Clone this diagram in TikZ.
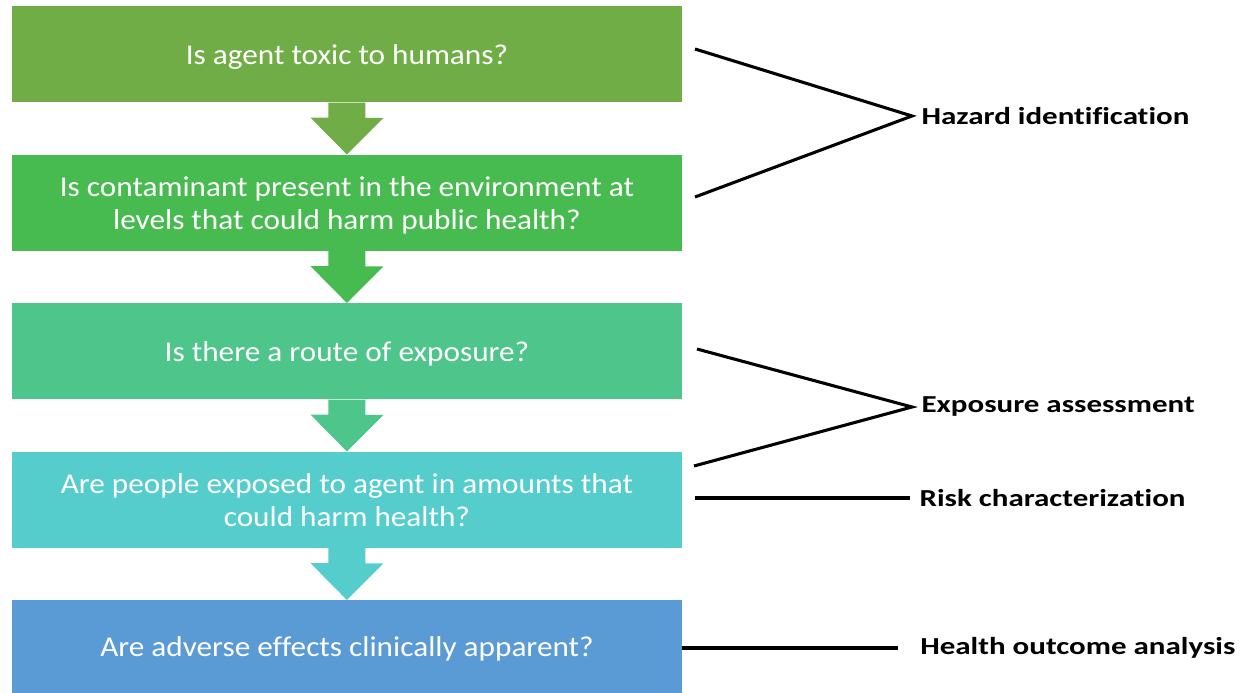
\documentclass[tikz,border=0pt]{standalone}
\usepackage{fontspec}
\setmainfont{Carlito}[Ligatures=CommonOff]
\newfontfamily\boxfont{Carlito}[FakeStretch=1.09,Ligatures=CommonOff]
\newfontfamily\labfont{Carlito}[FakeStretch=1.27,Ligatures=CommonOff,BoldFont={Carlito Bold}]
\definecolor{c1}{RGB}{112,173,71}
\definecolor{c2}{RGB}{71,187,80}
\definecolor{c3}{RGB}{78,197,139}
\definecolor{c4}{RGB}{86,205,205}
\definecolor{c5}{RGB}{91,155,213}
\begin{document}
\begin{tikzpicture}[x=0.75pt,y=-0.75pt,
  qbox/.style={fill=#1, draw=none, minimum width=502pt, minimum height=72pt, inner sep=0pt,
    text=white, align=center, font=\boxfont\fontsize{21.5}{24.5}\selectfont, anchor=north west,
    text depth=0pt},
  lab/.style={anchor=west, inner xsep=7pt, inner ysep=0pt, font=\labfont\fontsize{18.3}{22}\selectfont\bfseries},
  conn/.style={line width=2.3pt, black}
]
\useasboundingbox (0,0) rectangle (1247,693);
\node[qbox=c1] (b1) at (12,6) {Is agent toxic to humans?};
\node[qbox=c2] (b2) at (12,154.5) {Is contaminant present in the environment at\\levels that could harm public health?};
\node[qbox=c3] (b3) at (12,303) {Is there a route of exposure?};
\node[qbox=c4] (b4) at (12,451.5) {Are people exposed to agent in amounts that\\could harm health?};
\node[qbox=c5, minimum height=69.75pt] (b5) at (12,600) {Are adverse effects clinically apparent?};
% arrows
\foreach \a/\b/\c in {b1/b2/c1, b2/b3/c2, b3/b4/c3, b4/b5/c4}{
  \fill[\c] ([xshift=-13.9pt]\a.south) -- ++(0,-11.25pt) -- ++(-13.5pt,0) -- (\b.north) -- ++(27.4pt,27.4pt) -- ++(-13.5pt,0) -- ([xshift=13.9pt]\a.south) -- cycle;
}
% labels
\node[lab] (l1) at (912,116) {Hazard identification};
\node[lab] (l2) at (912,407) {Exposure assessment};
\node[lab] (l3) at (910,498) {Risk characterization};
\node[lab] (l4) at (898,648) {\hspace{9.5pt}Health outcome analysis};
\coordinate (h1) at (695,49);
\coordinate (h2) at (695,197);
\coordinate (e1) at (697,349);
\coordinate (e2) at (694,466);
\coordinate (r1) at (695,498);
\draw[conn] (h1) -- (l1.west) -- (h2);
\draw[conn] (e1) -- (l2.west) -- (e2);
\draw[conn] (r1) -- (l3.west);
\draw[conn] (b5.east |- l4.west) -- (l4.west);
\end{tikzpicture}
\end{document}
